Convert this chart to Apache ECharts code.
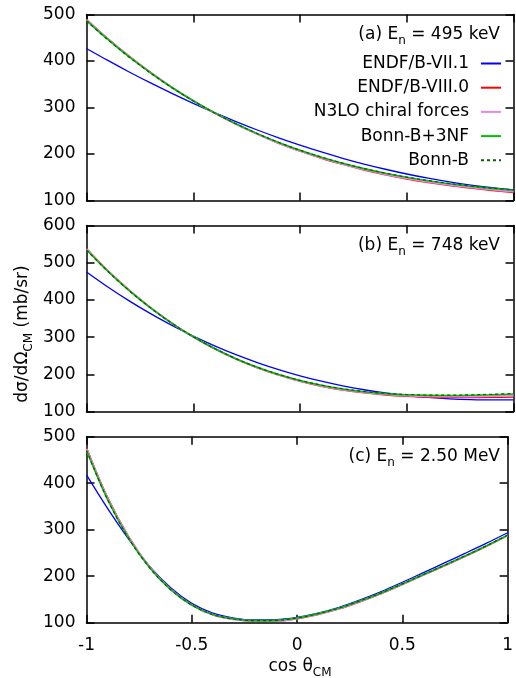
<!DOCTYPE html>
<html><head><meta charset="utf-8">
<script src="https://cdn.jsdelivr.net/npm/echarts@6/dist/echarts.min.js"></script>
<style>html,body{margin:0;padding:0;background:#fff}#c{width:516px;height:678px}</style>
</head><body><div id="c"></div>
<script>
// ---- data ----
const cosTheta = [-1,-0.9,-0.8,-0.7,-0.6,-0.5,-0.4,-0.3,-0.2,-0.1,0,0.1,0.2,0.3,0.4,0.5,0.6,0.7,0.8,0.9,1];
const xTickValues = [-1,-0.5,0,0.5,1];
const xTickLabels = ['-1','-0.5','0','0.5','1'];
const yTicksA = [100,200,300,400,500];
const yTicksB = [100,200,300,400,500,600];
const yTicksC = [100,200,300,400,500];
const seriesNames = ['ENDF/B-VII.1','ENDF/B-VIII.0','N3LO chiral forces','Bonn-B+3NF','Bonn-B'];
const panelTitles = ['(a) E|n| = 495 keV','(b) E|n| = 748 keV','(c) E|n| = 2.50 MeV'];

// (a) En = 495 keV
const a_endf71 = [427,401.2,376.4,352.8,330.4,309,288.8,269.6,251.6,234.8,219,204.4,190.8,178.4,167.2,157,148,140,133.2,127.6,123];
const a_endf80 = [490,448.5,410.5,375.5,343.5,314.5,288,264,242.5,223,206,190.8,177.5,165.5,155,146,138.5,132,126.5,121.5,117];
const a_n3lo   = [488.5,447.3,409.5,375,343.3,314.4,288.2,264.3,243,223.7,206.8,191.8,178.6,166.9,156.6,147.8,140.2,133.8,128.3,123.4,119.2];
const a_bonn3  = [487,446.3,408.8,374.5,343,314.4,288.4,264.9,243.8,224.8,208,193.1,180,168.5,158.5,149.9,142.5,136.1,130.7,126,122];
const a_bonn   = [486,445.5,408.2,374,342.7,314.2,288.3,264.9,243.9,224.9,208.2,193.4,180.3,168.9,158.9,150.3,142.9,136.5,131.1,126.4,122.5];

// (b) En = 748 keV
const b_endf71 = [475,434.7,397.4,363.1,331.5,302.7,276.5,252.8,231.6,212.7,196,181.5,169,158.5,149.8,142.9,137.7,134,131.9,131,131.5];
const b_endf80 = [538,479,426.5,379.5,337.5,300.5,268.5,240.8,217.3,197.6,181,167.8,157.6,149.8,144.2,140.5,138.3,137.3,137.2,137.8,139];
const b_n3lo   = [536.5,478,425.7,379,337.3,300.7,268.9,241.4,218.1,198.6,182.3,169.3,159.2,151.6,146.2,142.7,140.8,140.1,140.4,141.4,143];
const b_bonn3  = [535,477,424.9,378.4,337.1,300.9,269.3,242,218.9,199.5,183.5,170.7,160.7,153.3,148.1,144.9,143.3,143,143.7,145.1,147];
const b_bonn   = [534,476.5,424.6,378.2,337,300.9,269.4,242.2,219.1,199.8,183.8,171.1,161.2,153.9,148.8,145.7,144.2,144,144.8,146.3,148.3];

// (c) En = 2.50 MeV
const c_endf71 = [418,346,280,221,175,141.5,120.5,110,106,106.5,111.5,120.5,133,149,167,187,207.5,228.5,249.5,271,293.5];
const c_endf80 = [477,370,285.5,220,172,138.5,117,107,103,103.5,108.5,117.5,129.5,145,162.5,182,202,222,242.5,264,287];
const c_n3lo   = [474,367.5,284,219,171.5,138,117,107.5,103.8,104.2,109.2,118.5,130.5,146,163.5,183,203,223,243.5,265,288];
const c_bonn3  = [471,365,282,218,171,138,117.5,108,104.5,105,110,119.5,131.5,147,164,183.5,203.5,223.5,244,265.5,288];
const c_bonn   = [470,364.5,281.5,218,171,138,117.5,108,104.5,105,110,119.5,131.5,147,164,183.5,203.5,223.5,244,265.5,288.5];

const panelData = [
  [a_endf71,a_endf80,a_n3lo,a_bonn3,a_bonn],
  [b_endf71,b_endf80,b_n3lo,b_bonn3,b_bonn],
  [c_endf71,c_endf80,c_n3lo,c_bonn3,c_bonn]
];
const panelYTicks = [yTicksA,yTicksB,yTicksC];

// ---- style ----
const FONT = 'DejaVu Sans';
const colors = ['#0000ff','#ff0000','#ee82ee','#00c000','#006400'];
const lineTypes = ['solid','solid','solid','solid',[3,3]];
const lineWidths = [1.3,1.3,2,1.6,1.2];
const grids = [
  {left:86.5, width:427, top:14.5, height:186},
  {left:86.5, width:427, top:225.5, height:186},
  {left:86.5, width:427, top:436.7, height:186}
];
const frame = {color:'#000', width:1.5};

const xAxes = [], yAxes = [], series = [];
grids.forEach((g, gi) => {
  const showX = gi === 2;
  ['bottom','top'].forEach(pos => {
    xAxes.push({
      type:'value', gridIndex:gi, position:pos,
      min:xTickValues[0], max:xTickValues[xTickValues.length-1], interval:0.5,
      axisLine:{show:true, onZero:false, lineStyle:frame},
      axisTick:{show:true, inside:true, length:8, lineStyle:frame},
      axisLabel:{show: showX && pos==='bottom', margin:14, fontSize:17, fontFamily:FONT, color:'#000',
        formatter: v => { const i = xTickValues.indexOf(v); return i>=0 ? xTickLabels[i] : ''; }},
      splitLine:{show:false}
    });
  });
  const yt = panelYTicks[gi];
  ['left','right'].forEach(pos => {
    yAxes.push({
      type:'value', gridIndex:gi, position:pos,
      min:yt[0], max:yt[yt.length-1], interval:100,
      axisLine:{show:true, onZero:false, lineStyle:frame},
      axisTick:{show:true, inside:true, length:8, lineStyle:frame},
      axisLabel:{show: pos==='left', margin:11, fontSize:17, fontFamily:FONT, color:'#000',
        formatter: v => { const i = yt.indexOf(v); return i>=0 ? String(yt[i]) : ''; }},
      splitLine:{show:false}
    });
  });
  panelData[gi].forEach((arr, si) => {
    series.push({
      type:'line', name:seriesNames[si], xAxisIndex:gi*2, yAxisIndex:gi*2,
      data: cosTheta.map((x,k) => [x, arr[k]]),
      smooth:0.35, symbol:'none', silent:true, animation:false,
      lineStyle:{color:colors[si], width:lineWidths[si], type:lineTypes[si]},
      itemStyle:{color:colors[si]}, z: 2+si
    });
  });
});

const subRich = {
  m:{fontSize:17, fontFamily:FONT, color:'#000', lineHeight:20, verticalAlign:'top'},
  s:{fontSize:12, fontFamily:FONT, color:'#000', lineHeight:12, verticalAlign:'top', padding:[9,0,0,0]}
};
function richOf(t){ const p = t.split('|'); return '{m|'+p[0]+'}{s|'+p[1]+'}{m|'+p[2]+'}'; }
const titleY = [37, 248, 459];
const graphics = panelTitles.map((t, i) => ({
  type:'text', right: 16, top: titleY[i]-11,
  style:{text: richOf(t), rich: subRich}
}));
graphics.push({
  type:'text', x: 300, y: 668,
  style:{text: richOf('cos θ|CM|'), rich: subRich, align:'center', verticalAlign:'middle'}
});
graphics.push({
  type:'text', x: 24, y: 334, rotation: Math.PI/2,
  style:{text: richOf('dσ/dΩ|CM| (mb/sr)'), rich: subRich, align:'center', verticalAlign:'middle'}
});

const chart = echarts.init(document.getElementById('c'), null, {renderer:'canvas'});
chart.setOption({
  animation:false,
  backgroundColor:'#fff',
  grid: grids,
  xAxis: xAxes,
  yAxis: yAxes,
  legend:{
    show:true, orient:'vertical', right:14, top:55, padding:0, align:'right',
    itemWidth:20, itemHeight:14, itemGap:7.2, selectedMode:false,
    itemStyle:{opacity:0, borderWidth:0},
    textStyle:{fontSize:17, fontFamily:FONT, color:'#000', padding:[0,7,0,0]},
    data: seriesNames
  },
  graphic: graphics,
  series: series
});
</script></body></html>
